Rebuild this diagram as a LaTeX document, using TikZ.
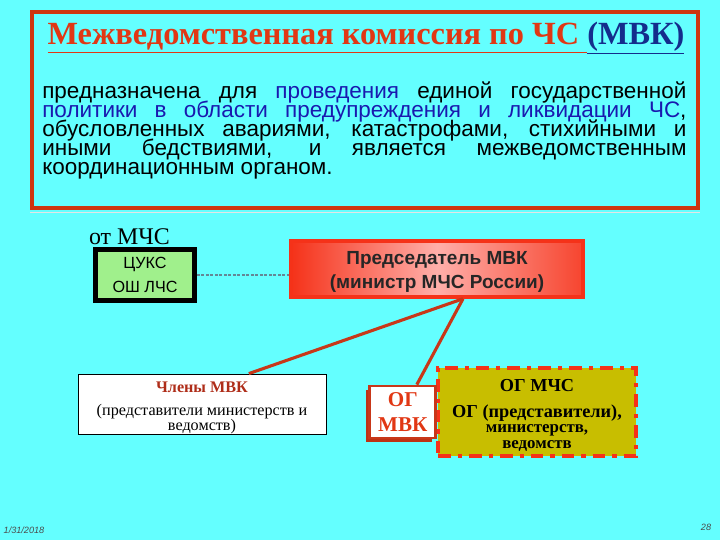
\documentclass[tikz,border=0pt]{standalone}
\usepackage{fontspec}
\setmainfont{Liberation Serif}
\newfontfamily\arialfont{Liberation Sans}
\usetikzlibrary{positioning,shadows}

\definecolor{slidebg}{RGB}{100,255,255}
\definecolor{framered}{RGB}{205,55,15}
\definecolor{titlered}{RGB}{225,55,20}
\definecolor{titleblue}{RGB}{20,45,140}
\definecolor{textblue}{RGB}{25,25,175}
\definecolor{tsuksgreen}{RGB}{160,240,140}
\definecolor{predred}{RGB}{245,50,25}
\definecolor{predpink}{RGB}{255,175,170}
\definecolor{linkred}{RGB}{200,55,25}
\definecolor{ogolive}{RGB}{200,190,0}
\definecolor{chlenred}{RGB}{175,45,25}
\definecolor{dotgray}{RGB}{100,135,150}
\definecolor{shadowred}{RGB}{190,50,20}

\newcommand\tightlines{\lineskiplimit=-30pt\relax\lineskip=0pt\relax\hyphenpenalty=10000\relax}

\begin{document}
\begin{tikzpicture}[x=0.025cm,y=-0.025cm,every node/.append style={align=center},
  tsuksbox/.style={draw=black, line width=3.5pt, fill=tsuksgreen, minimum width=2.475cm, minimum height=1.275cm, inner sep=0pt, font=\arialfont\fontsize{11.5}{16.5}\selectfont},
  predbox/.style={draw=predred, line width=2.5pt, left color=predred, right color=predred!85!predpink, middle color=predpink, minimum width=7.3cm, minimum height=1.4cm, inner sep=0pt, font=\arialfont\bfseries\fontsize{13.5}{17}\selectfont, text=black!85},
  chlenbox/.style={draw=black, line width=0.6pt, fill=white, minimum width=6.2cm, minimum height=1.5cm, inner sep=0pt, font=\fontsize{11.5}{10.5}\selectfont\tightlines},
  ogbox/.style={draw=linkred, line width=2pt, fill=white, minimum width=1.65cm, minimum height=1.3cm, inner sep=0pt, text=titlered, font=\bfseries\fontsize{15}{18}\selectfont, drop shadow={shadow xshift=-3pt, shadow yshift=-3pt, fill=shadowred, opacity=1}},
  mchsbox/.style={draw=predred, line width=3pt, dash pattern=on 9pt off 5pt on 3pt off 5pt, fill=ogolive, minimum width=4.95cm, minimum height=2.2cm, inner sep=0pt, font=\bfseries\fontsize{12}{11}\selectfont},
  link/.style={draw=linkred, line width=2.2pt},
]
\fill[slidebg] (0,0) rectangle (720,540);
\useasboundingbox (0,0) rectangle (720,540);

% upper frame
\draw[white!80!gray, line width=1pt] (30,212.5) -- (700,212.5);
\draw[framered, line width=3.5pt] (32,12) rectangle (698,208);
\node[font=\bfseries\fontsize{23}{26}\selectfont, text=titlered] (title) at (366,38)
  {\underline{Межведомственная комиссия по ЧС }\textcolor{titleblue}{\underline{(МВК)}}};
\node[anchor=north west, text width=16.1cm, align=justify, inner sep=0pt,
  font=\arialfont\fontsize{16}{13.5}\selectfont\tightlines] (purpose) at (42,82)
  {предназначена для \textcolor{textblue}{проведения} единой государственной\linebreak
   \textcolor{textblue}{политики в области предупреждения и ликвидации ЧС},\linebreak
   обусловленных авариями, катастрофами, стихийными и\linebreak
   иными бедствиями, и является межведомственным\linebreak
   координационным органом.};

% blocks
\node[tsuksbox] (tsuks) at (145,275) {ЦУКС\\ОШ ЛЧС};
\node[above right=1.5pt and -3pt of tsuks.north west, inner sep=0pt, font=\fontsize{17}{19}\selectfont] (otmchs) {от МЧС};
\node[predbox] (pred) at (437,269) {\rule{0pt}{14pt}Председатель МВК\\(министр МЧС России)};
\node[chlenbox] (chleny) at (202,404)
  {\rule{0pt}{13pt}\textcolor{chlenred}{\bfseries Члены МВК}\\[6pt]
   (представители министерств и\\ведомств)};
\node[mchsbox] (ogmchs) at (537,412)
  {\rule{0pt}{13pt}\fontsize{13}{13}\selectfont ОГ МЧС\\[7.5pt]
   \fontsize{13}{13}\selectfont ОГ (представители),\\
   министерств,\\ведомств};
\node[ogbox, left=-1pt of ogmchs.west] (ogmvk) {ОГ\\МВК};

% links
\draw[dotgray, line width=2pt, dash pattern=on 2pt off 1.2pt] (tsuks.east) -- (tsuks.east -| pred.west);
\coordinate (fork) at ([xshift=0.65cm]pred.south);
\draw[link] (fork) -- (chleny.33);
\draw[link] (fork) -- (ogmvk.63);

% footer
\node[font=\arialfont\itshape\fontsize{6.5}{8}\selectfont, text=black!70] (date) at (24,530) {1/31/2018};
\node[font=\arialfont\itshape\fontsize{6.5}{8}\selectfont, text=black!70] (page) at (706,527) {28};
\end{tikzpicture}
\end{document}
